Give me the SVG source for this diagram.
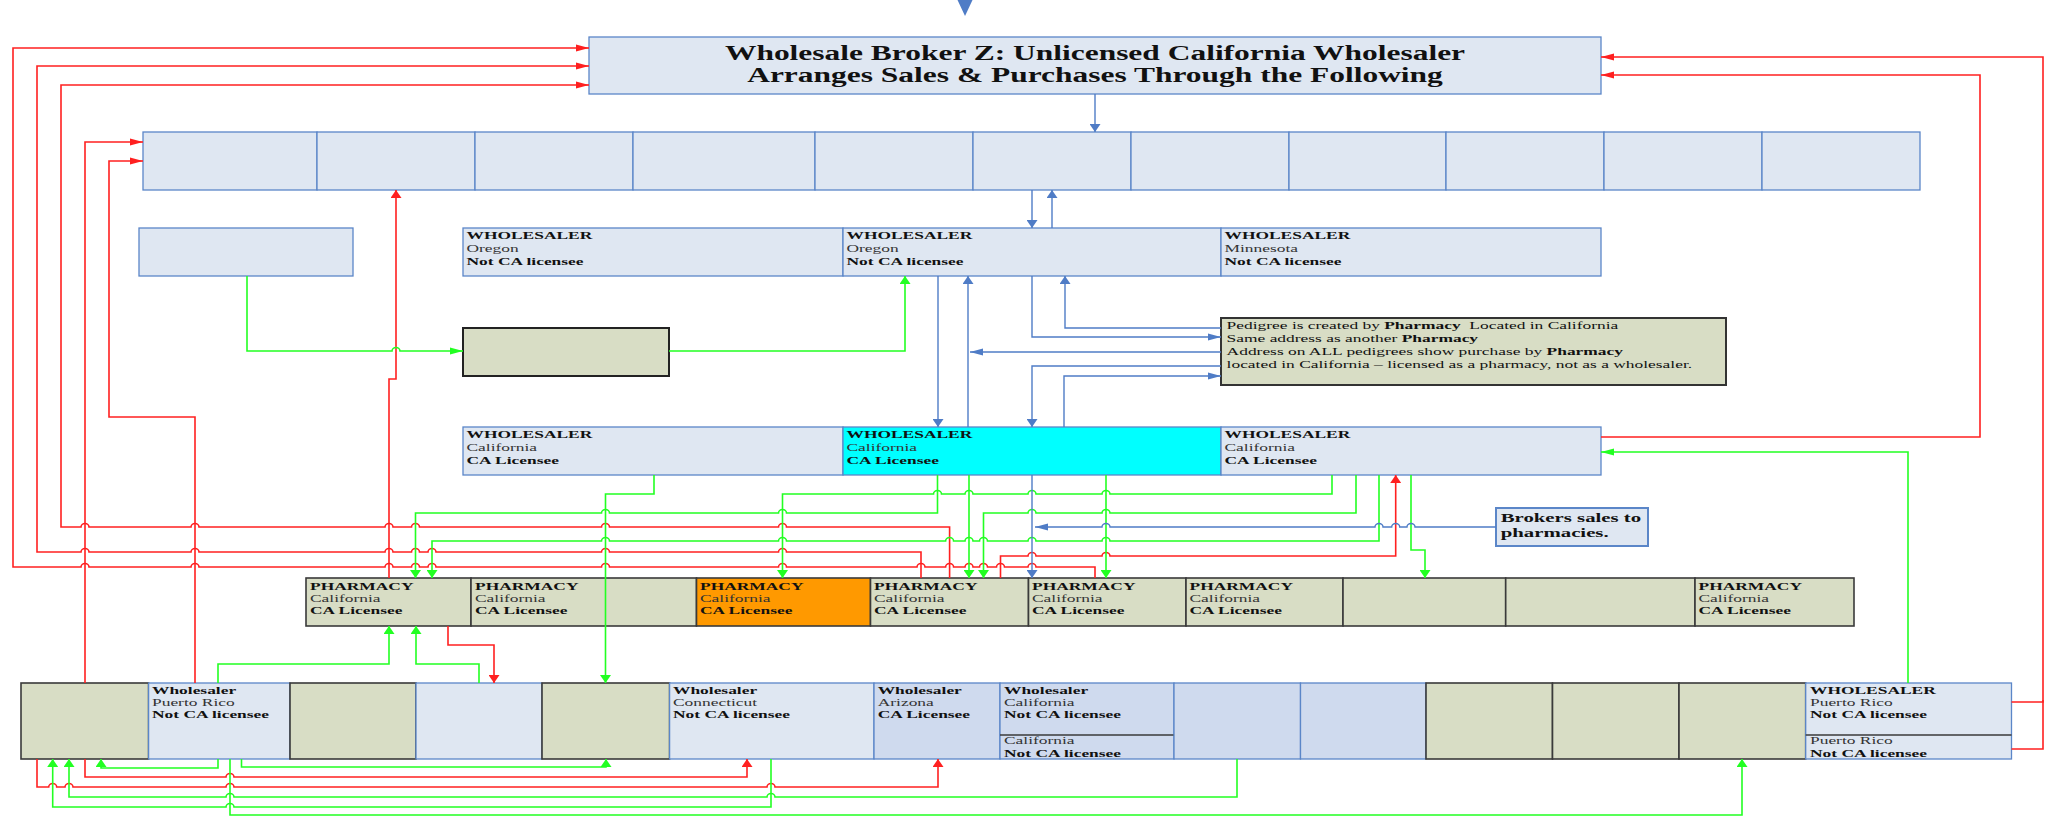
<svg xmlns="http://www.w3.org/2000/svg" width="2057" height="816" viewBox="0 0 2057 816">
<style>
.bl{fill:#dfe7f2;stroke:#5b86c8;stroke-width:1.3}
.bd{fill:#cfdaee;stroke:#5b86c8;stroke-width:1.3}
.kh{fill:#d8ddc5;stroke:#3a3a3a;stroke-width:1.6}
.or{fill:#ff9900;stroke:#3a3a3a;stroke-width:1.6}
.cy{fill:#00ffff;stroke:#5b86c8;stroke-width:1.3}
.t{font-family:"Liberation Serif","Times New Roman",serif;font-size:10.5px;fill:#111}
.b{font-weight:bold}
.g{fill:#333}
.title{font-family:"Liberation Serif","Times New Roman",serif;font-size:20px;font-weight:bold;fill:#111}
.brk{font-family:"Liberation Serif","Times New Roman",serif;font-size:13px;font-weight:bold;fill:#111}
.pre{white-space:pre}
.r{fill:none;stroke:#ff2020;stroke-width:1.6}
.gr{fill:none;stroke:#22ff22;stroke-width:1.6}
.bu{fill:none;stroke:#4f7cc6;stroke-width:1.4}
.dv{stroke:#3a3a3a;stroke-width:1.3}
</style>
<defs>
<marker id="rh" markerUnits="userSpaceOnUse" markerWidth="13" markerHeight="8" refX="13" refY="4" orient="auto"><path d="M0,0.5L13,4L0,7.5z" fill="#ff2020"/></marker>
<marker id="rv" markerUnits="userSpaceOnUse" markerWidth="8" markerHeight="11" refX="8" refY="5.5" orient="auto"><path d="M0,0L8,5.5L0,11z" fill="#ff2020"/></marker>
<marker id="gh" markerUnits="userSpaceOnUse" markerWidth="13" markerHeight="8" refX="13" refY="4" orient="auto"><path d="M0,0.5L13,4L0,7.5z" fill="#22ff22"/></marker>
<marker id="gv" markerUnits="userSpaceOnUse" markerWidth="8" markerHeight="11" refX="8" refY="5.5" orient="auto"><path d="M0,0L8,5.5L0,11z" fill="#22ff22"/></marker>
<marker id="bh" markerUnits="userSpaceOnUse" markerWidth="13" markerHeight="8" refX="13" refY="4" orient="auto"><path d="M0,0.5L13,4L0,7.5z" fill="#4f7cc6"/></marker>
<marker id="bv" markerUnits="userSpaceOnUse" markerWidth="8" markerHeight="11" refX="8" refY="5.5" orient="auto"><path d="M0,0L8,5.5L0,11z" fill="#4f7cc6"/></marker>
</defs>
<rect width="2057" height="816" fill="#ffffff"/>

<g id="broker-z">
<rect class="bl" x="589" y="37" width="1012" height="57"/>
<text class="title" text-anchor="middle" transform="translate(1095 0) scale(1.573 1)"><tspan x="0" y="60">Wholesale Broker Z: Unlicensed California Wholesaler</tspan><tspan x="0" y="82">Arranges Sales &amp; Purchases Through the Following</tspan></text>
</g>

<g id="row2">
<rect class="bl" x="143" y="132" width="174" height="58"/>
<rect class="bl" x="317" y="132" width="158" height="58"/>
<rect class="bl" x="475" y="132" width="158" height="58"/>
<rect class="bl" x="633" y="132" width="182" height="58"/>
<rect class="bl" x="815" y="132" width="158" height="58"/>
<rect class="bl" x="973" y="132" width="158" height="58"/>
<rect class="bl" x="1131" y="132" width="158" height="58"/>
<rect class="bl" x="1289" y="132" width="157" height="58"/>
<rect class="bl" x="1446" y="132" width="158" height="58"/>
<rect class="bl" x="1604" y="132" width="158" height="58"/>
<rect class="bl" x="1762" y="132" width="158" height="58"/>
</g>

<g id="left-box"><rect class="bl" x="139" y="228" width="214" height="48"/></g>

<g id="w-oregon-1">
<rect class="bl" x="463" y="228" width="380" height="48"/>
<text class="t" transform="translate(466.5 0) scale(1.66 1)"><tspan class="b" x="0" y="239.3">WHOLESALER</tspan><tspan class="g" x="0" y="252.3">Oregon</tspan><tspan class="b" x="0" y="265">Not CA licensee</tspan></text>
</g>
<g id="w-oregon-2">
<rect class="bl" x="843" y="228" width="378" height="48"/>
<text class="t" transform="translate(846.5 0) scale(1.66 1)"><tspan class="b" x="0" y="239.3">WHOLESALER</tspan><tspan class="g" x="0" y="252.3">Oregon</tspan><tspan class="b" x="0" y="265">Not CA licensee</tspan></text>
</g>
<g id="w-minnesota">
<rect class="bl" x="1221" y="228" width="380" height="48"/>
<text class="t" transform="translate(1224.5 0) scale(1.66 1)"><tspan class="b" x="0" y="239.3">WHOLESALER</tspan><tspan class="g" x="0" y="252.3">Minnesota</tspan><tspan class="b" x="0" y="265">Not CA licensee</tspan></text>
</g>

<g id="khaki-box"><rect x="463" y="328" width="206" height="48" fill="#d8ddc5" stroke="#222" stroke-width="2"/></g>

<g id="pedigree-note">
<rect x="1221" y="318" width="505" height="67" fill="#d8ddc5" stroke="#333" stroke-width="2"/>
<text class="t pre" transform="translate(1226.6 0) scale(1.66 1)"><tspan x="0" y="329.3">Pedigree is created by </tspan><tspan class="b">Pharmacy</tspan><tspan>  Located in California</tspan><tspan x="0" y="342.3">Same address as another </tspan><tspan class="b">Pharmacy</tspan><tspan x="0" y="355.3">Address on ALL pedigrees show purchase by </tspan><tspan class="b">Pharmacy</tspan><tspan x="0" y="368.3">located in California – licensed as a pharmacy, not as a wholesaler.</tspan></text>
</g>

<g id="w-ca-1">
<rect class="bl" x="463" y="427" width="380" height="48"/>
<text class="t" transform="translate(466.5 0) scale(1.66 1)"><tspan class="b" x="0" y="438.3">WHOLESALER</tspan><tspan class="g" x="0" y="451">California</tspan><tspan class="b" x="0" y="464">CA Licensee</tspan></text>
</g>
<g id="w-ca-2">
<rect class="cy" x="843" y="427" width="378" height="48"/>
<text class="t" transform="translate(846.5 0) scale(1.66 1)"><tspan class="b" x="0" y="438.3">WHOLESALER</tspan><tspan class="g" x="0" y="451">California</tspan><tspan class="b" x="0" y="464">CA Licensee</tspan></text>
</g>
<g id="w-ca-3">
<rect class="bl" x="1221" y="427" width="380" height="48"/>
<text class="t" transform="translate(1224.5 0) scale(1.66 1)"><tspan class="b" x="0" y="438.3">WHOLESALER</tspan><tspan class="g" x="0" y="451">California</tspan><tspan class="b" x="0" y="464">CA Licensee</tspan></text>
</g>

<g id="brokers-note">
<rect x="1496" y="508" width="152" height="38" fill="#dfe7f2" stroke="#5b86c8" stroke-width="2"/>
<text class="brk" transform="translate(1500.7 0) scale(1.6 1)"><tspan x="0" y="522.3">Brokers sales to</tspan><tspan x="0" y="536.7">pharmacies.</tspan></text>
</g>

<g id="pharmacy-1">
<rect class="kh" x="306" y="578" width="165" height="48"/>
<text class="t" transform="translate(310 0) scale(1.66 1)"><tspan class="b" x="0" y="590">PHARMACY</tspan><tspan class="g" x="0" y="602.5">California</tspan><tspan class="b" x="0" y="614.5">CA Licensee</tspan></text>
</g>
<g id="pharmacy-2">
<rect class="kh" x="471" y="578" width="225.5" height="48"/>
<text class="t" transform="translate(475 0) scale(1.66 1)"><tspan class="b" x="0" y="590">PHARMACY</tspan><tspan class="g" x="0" y="602.5">California</tspan><tspan class="b" x="0" y="614.5">CA Licensee</tspan></text>
</g>
<g id="pharmacy-3">
<rect class="or" x="696.5" y="578" width="174" height="48"/>
<text class="t" transform="translate(700 0) scale(1.66 1)"><tspan class="b" x="0" y="590">PHARMACY</tspan><tspan class="g" x="0" y="602.5">California</tspan><tspan class="b" x="0" y="614.5">CA Licensee</tspan></text>
</g>
<g id="pharmacy-4">
<rect class="kh" x="870.5" y="578" width="158" height="48"/>
<text class="t" transform="translate(874 0) scale(1.66 1)"><tspan class="b" x="0" y="590">PHARMACY</tspan><tspan class="g" x="0" y="602.5">California</tspan><tspan class="b" x="0" y="614.5">CA Licensee</tspan></text>
</g>
<g id="pharmacy-5">
<rect class="kh" x="1028.5" y="578" width="157.5" height="48"/>
<text class="t" transform="translate(1032 0) scale(1.66 1)"><tspan class="b" x="0" y="590">PHARMACY</tspan><tspan class="g" x="0" y="602.5">California</tspan><tspan class="b" x="0" y="614.5">CA Licensee</tspan></text>
</g>
<g id="pharmacy-6">
<rect class="kh" x="1186" y="578" width="157" height="48"/>
<text class="t" transform="translate(1189.5 0) scale(1.66 1)"><tspan class="b" x="0" y="590">PHARMACY</tspan><tspan class="g" x="0" y="602.5">California</tspan><tspan class="b" x="0" y="614.5">CA Licensee</tspan></text>
</g>
<g id="pharmacy-7"><rect class="kh" x="1343" y="578" width="162.7" height="48"/></g>
<g id="pharmacy-8"><rect class="kh" x="1505.7" y="578" width="189.3" height="48"/></g>
<g id="pharmacy-9">
<rect class="kh" x="1695" y="578" width="159" height="48"/>
<text class="t" transform="translate(1698.5 0) scale(1.66 1)"><tspan class="b" x="0" y="590">PHARMACY</tspan><tspan class="g" x="0" y="602.5">California</tspan><tspan class="b" x="0" y="614.5">CA Licensee</tspan></text>
</g>

<g id="bottom-1"><rect class="kh" x="21" y="683" width="127.6" height="76"/></g>
<g id="bottom-2">
<rect class="bl" x="148.6" y="683" width="141.4" height="76"/>
<text class="t" transform="translate(152 0) scale(1.66 1)"><tspan class="b" x="0" y="694.3">Wholesaler</tspan><tspan class="g" x="0" y="706.3">Puerto Rico</tspan><tspan class="b" x="0" y="718.3">Not CA licensee</tspan></text>
</g>
<g id="bottom-3"><rect class="kh" x="290" y="683" width="126" height="76"/></g>
<g id="bottom-4"><rect class="bl" x="416" y="683" width="126" height="76"/></g>
<g id="bottom-5"><rect class="kh" x="542" y="683" width="127.6" height="76"/></g>
<g id="bottom-6">
<rect class="bl" x="669.6" y="683" width="204.4" height="76"/>
<text class="t" transform="translate(673 0) scale(1.66 1)"><tspan class="b" x="0" y="694.3">Wholesaler</tspan><tspan class="g" x="0" y="706.3">Connecticut</tspan><tspan class="b" x="0" y="718.3">Not CA licensee</tspan></text>
</g>
<g id="bottom-7">
<rect class="bd" x="874" y="683" width="126" height="76"/>
<text class="t" transform="translate(877.7 0) scale(1.66 1)"><tspan class="b" x="0" y="694.3">Wholesaler</tspan><tspan class="g" x="0" y="706.3">Arizona</tspan><tspan class="b" x="0" y="718.3">CA Licensee</tspan></text>
</g>
<g id="bottom-8">
<rect class="bd" x="1000" y="683" width="174" height="76"/>
<line class="dv" x1="1000" y1="735" x2="1174" y2="735"/>
<text class="t" transform="translate(1004 0) scale(1.66 1)"><tspan class="b" x="0" y="694.3">Wholesaler</tspan><tspan class="g" x="0" y="706.3">California</tspan><tspan class="b" x="0" y="718.3">Not CA licensee</tspan><tspan class="g" x="0" y="744.3">California</tspan><tspan class="b" x="0" y="756.7">Not CA licensee</tspan></text>
</g>
<g id="bottom-9"><rect class="bd" x="1174" y="683" width="126.5" height="76"/></g>
<g id="bottom-10"><rect class="bd" x="1300.5" y="683" width="125.5" height="76"/></g>
<g id="bottom-11"><rect class="kh" x="1426" y="683" width="126.5" height="76"/></g>
<g id="bottom-12"><rect class="kh" x="1552.5" y="683" width="126.5" height="76"/></g>
<g id="bottom-13"><rect class="kh" x="1679" y="683" width="126.7" height="76"/></g>
<g id="bottom-14">
<rect class="bl" x="1805.7" y="683" width="205.8" height="76"/>
<line class="dv" x1="1805.7" y1="735" x2="2011.5" y2="735"/>
<text class="t" transform="translate(1810 0) scale(1.66 1)"><tspan class="b" x="0" y="694.3">WHOLESALER</tspan><tspan class="g" x="0" y="706.3">Puerto Rico</tspan><tspan class="b" x="0" y="718.3">Not CA licensee</tspan><tspan class="g" x="0" y="744.3">Puerto Rico</tspan><tspan class="b" x="0" y="756.7">Not CA licensee</tspan></text>
</g>

<g id="connectors">
<!-- red -->
<path class="r" marker-end="url(#rh)" d="M1095,578V567H1036a4,3.5 0 0 0 -8,0H1004.5a4,3.5 0 0 0 -8,0H987.5a4,3.5 0 0 0 -8,0H973a4,3.5 0 0 0 -8,0H953.6a4,3.5 0 0 0 -8,0H925a4,3.5 0 0 0 -8,0H786.5a4,3.5 0 0 0 -8,0H609.5a4,3.5 0 0 0 -8,0H436a4,3.5 0 0 0 -8,0H419.5a4,3.5 0 0 0 -8,0H393a4,3.5 0 0 0 -8,0H199a4,3.5 0 0 0 -8,0H89a4,3.5 0 0 0 -8,0H13V48H589"/>
<path class="r" marker-end="url(#rh)" d="M921,578V552H786.5a4,3.5 0 0 0 -8,0H609.5a4,3.5 0 0 0 -8,0H436a4,3.5 0 0 0 -8,0H419.5a4,3.5 0 0 0 -8,0H393a4,3.5 0 0 0 -8,0H199a4,3.5 0 0 0 -8,0H89a4,3.5 0 0 0 -8,0H37V66H589"/>
<path class="r" marker-end="url(#rh)" d="M949.6,578V527H786.5a4,3.5 0 0 0 -8,0H609.5a4,3.5 0 0 0 -8,0H419.5a4,3.5 0 0 0 -8,0H393a4,3.5 0 0 0 -8,0H199a4,3.5 0 0 0 -8,0H89a4,3.5 0 0 0 -8,0H61V85H589"/>
<path class="r" marker-end="url(#rv)" d="M1000.5,578V556H1028a4,3.5 0 0 1 8,0H1102a4,3.5 0 0 1 8,0H1395.7V475"/>
<path class="r" marker-end="url(#rh)" d="M85,683V142H143"/>
<path class="r" marker-end="url(#rh)" d="M195,683V417H109V161H143"/>
<path class="r" marker-end="url(#rv)" d="M389,578V379H396V190"/>
<path class="r" marker-end="url(#rv)" d="M448,626V645H494V683"/>
<path class="r" marker-end="url(#rv)" d="M85,759V777H226a4,3.5 0 0 1 8,0H747V759"/>
<path class="r" marker-end="url(#rv)" d="M37,759V787H48.7a4,3.5 0 0 1 8,0H65a4,3.5 0 0 1 8,0H226a4,3.5 0 0 1 8,0H767a4,3.5 0 0 1 8,0H938V759"/>
<path class="r" marker-end="url(#rh)" d="M1601,437H1980V75H1601"/>
<path class="r" marker-end="url(#rh)" d="M2011.5,702H2043V57H1601"/>
<path class="r" d="M2011.5,749H2043V700"/>
<!-- green -->
<path class="gr" marker-end="url(#gh)" d="M247,276V351H392a4,3.5 0 0 1 8,0H463"/>
<path class="gr" marker-end="url(#gv)" d="M669,351H905V276"/>
<path class="gr" marker-end="url(#gv)" d="M654,475V494H605.5V683"/>
<path class="gr" marker-end="url(#gv)" d="M937.5,475V513H786.5a4,3.5 0 0 0 -8,0H609.5a4,3.5 0 0 0 -8,0H415.5V578"/>
<path class="gr" marker-end="url(#gv)" d="M969,475V578"/>
<path class="gr" marker-end="url(#gv)" d="M1106,475V578"/>
<path class="gr" marker-end="url(#gv)" d="M1332,475V494H1110a4,3.5 0 0 0 -8,0H1036a4,3.5 0 0 0 -8,0H973a4,3.5 0 0 0 -8,0H941.5a4,3.5 0 0 0 -8,0H782.5V578"/>
<path class="gr" marker-end="url(#gv)" d="M1356,475V513H1110a4,3.5 0 0 0 -8,0H1036a4,3.5 0 0 0 -8,0H983.5V578"/>
<path class="gr" marker-end="url(#gv)" d="M1379,475V541H1110a4,3.5 0 0 0 -8,0H1036a4,3.5 0 0 0 -8,0H987.5a4,3.5 0 0 0 -8,0H973a4,3.5 0 0 0 -8,0H953.6a4,3.5 0 0 0 -8,0H786.5a4,3.5 0 0 0 -8,0H609.5a4,3.5 0 0 0 -8,0H432V578"/>
<path class="gr" marker-end="url(#gv)" d="M1411,475V550H1425V578"/>
<path class="gr" marker-end="url(#gh)" d="M1908,683V452H1601"/>
<path class="gr" marker-end="url(#gv)" d="M218,683V664H389V626"/>
<path class="gr" marker-end="url(#gv)" d="M479,683V664H416V626"/>
<path class="gr" marker-end="url(#gv)" d="M218,759V768H101V759"/>
<path class="gr" marker-end="url(#gv)" d="M241.5,759V767H606V759"/>
<path class="gr" marker-end="url(#gv)" d="M771,759V807H234a4,3.5 0 0 0 -8,0H52.7V759"/>
<path class="gr" marker-end="url(#gv)" d="M1237,759V797H775a4,3.5 0 0 0 -8,0H234a4,3.5 0 0 0 -8,0H69V759"/>
<path class="gr" marker-end="url(#gv)" d="M230,759V815H1742V759"/>
<!-- blue -->
<path d="M957.5,0H972.5L965,16z" fill="#4f7cc6"/>
<path class="bu" marker-end="url(#bv)" d="M1095,94V132"/>
<path class="bu" marker-end="url(#bv)" d="M1032,190V228"/>
<path class="bu" marker-end="url(#bv)" d="M1052,228V190"/>
<path class="bu" marker-end="url(#bv)" d="M938,276V427"/>
<path class="bu" marker-end="url(#bv)" d="M968,427V276"/>
<path class="bu" marker-end="url(#bh)" d="M1032,276V337H1221"/>
<path class="bu" marker-end="url(#bv)" d="M1221,328H1065V276"/>
<path class="bu" marker-end="url(#bh)" d="M1221,352H970"/>
<path class="bu" marker-end="url(#bv)" d="M1221,366H1032V427"/>
<path class="bu" marker-end="url(#bh)" d="M1064,427V376H1221"/>
<path class="bu" marker-end="url(#bv)" d="M1032,475V578"/>
<path class="bu" marker-end="url(#bh)" d="M1496,527H1415a4,3.5 0 0 0 -8,0H1399.7a4,3.5 0 0 0 -8,0H1383a4,3.5 0 0 0 -8,0H1110a4,3.5 0 0 0 -8,0H1035"/>
</g>
</svg>
